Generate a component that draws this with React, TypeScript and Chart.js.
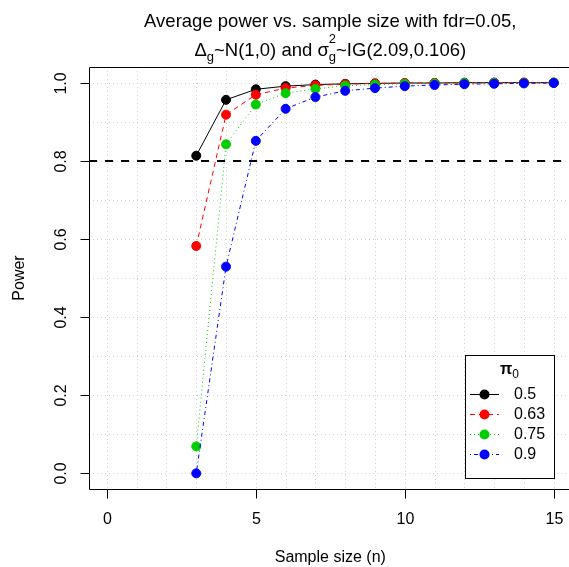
import React, { useEffect, useRef } from "react";
import { Chart, registerables } from "chart.js";

Chart.register(...registerables);

// ---------------- data ----------------
const sampleSizes = [3, 4, 5, 6, 7, 8, 9, 10, 11, 12, 13, 14, 15];
const pi0Labels = ["0.5", "0.63", "0.75", "0.9"];
const power050 = [0.813, 0.956, 0.983, 0.991, 0.995, 0.997, 0.998, 0.999, 0.999, 1.0, 1.0, 1.0, 1.0];
const power063 = [0.582, 0.918, 0.969, 0.986, 0.993, 0.996, 0.998, 0.999, 0.999, 0.999, 1.0, 1.0, 1.0];
const power075 = [0.069, 0.842, 0.944, 0.973, 0.984, 0.992, 0.995, 0.997, 0.998, 0.999, 0.999, 0.999, 1.0];
const power090 = [0.0, 0.529, 0.851, 0.933, 0.963, 0.979, 0.986, 0.991, 0.994, 0.996, 0.997, 0.998, 0.999];
const seriesColors = ["#000000", "#FF0000", "#00CD00", "#0000FF"];
const seriesDashes: number[][] = [[], [5, 4], [1, 3], [1, 3, 4, 3]];

const xTicks = [0, 5, 10, 15];
const xTickLabels = ["0", "5", "10", "15"];
const yTicks = [0, 0.2, 0.4, 0.6, 0.8, 1.0];
const yTickLabels = ["0.0", "0.2", "0.4", "0.6", "0.8", "1.0"];
const xGrid = [0, 1, 2, 3, 4, 5, 6, 7, 8, 9, 10, 11, 12, 13, 14, 15];
const yGrid = [0, 0.1, 0.2, 0.3, 0.4, 0.5, 0.6, 0.7, 0.8, 0.9, 1.0];
const targetPower = 0.8;

const titleLine1 = "Average power vs. sample size with fdr=0.05,";
const xLabel = "Sample size (n)";
const yLabel = "Power";

const FONT = '"Liberation Sans", Arial, Helvetica, sans-serif';

const decor = {
  id: "decor",
  beforeDatasetsDraw(chart: any) {
    const { ctx, chartArea: a, scales } = chart;
    const x = scales.x, y = scales.y;
    ctx.save();
    ctx.beginPath();
    ctx.rect(a.left, a.top, a.right - a.left, a.bottom - a.top);
    ctx.clip();
    // dotted grid
    ctx.strokeStyle = "#d3d3d3";
    ctx.lineWidth = 1;
    ctx.setLineDash([1, 3]);
    for (const v of xGrid) {
      const px = Math.round(x.getPixelForValue(v)) + 0.5;
      ctx.beginPath();
      ctx.moveTo(px, a.top);
      ctx.lineTo(px, a.bottom);
      ctx.stroke();
    }
    for (const v of yGrid) {
      const py = Math.round(y.getPixelForValue(v)) + 0.5;
      ctx.beginPath();
      ctx.moveTo(a.left, py);
      ctx.lineTo(a.right, py);
      ctx.stroke();
    }
    // target power line
    ctx.strokeStyle = "#000";
    ctx.lineWidth = 2;
    ctx.setLineDash([8, 8]);
    const py = Math.round(y.getPixelForValue(targetPower));
    ctx.beginPath();
    ctx.moveTo(a.left, py);
    ctx.lineTo(a.right, py);
    ctx.stroke();
    ctx.restore();
  },
  afterDatasetsDraw(chart: any) {
    const { ctx, chartArea: a, scales } = chart;
    const x = scales.x, y = scales.y;
    ctx.save();
    ctx.setLineDash([]);
    ctx.strokeStyle = "#000";
    ctx.fillStyle = "#000";
    ctx.lineWidth = 1;
    // box
    const L = Math.round(a.left) + 0.5, T = Math.round(a.top) + 0.5, B = Math.round(a.bottom) + 0.5;
    ctx.beginPath();
    ctx.moveTo(a.right + 2, T);
    ctx.lineTo(L, T);
    ctx.lineTo(L, B);
    ctx.lineTo(a.right + 2, B);
    ctx.stroke();
    // x ticks
    ctx.font = `16px ${FONT}`;
    ctx.textAlign = "center";
    ctx.textBaseline = "middle";
    xTicks.forEach((v, i) => {
      const px = Math.round(x.getPixelForValue(v)) + 0.5;
      ctx.beginPath();
      ctx.moveTo(px, B);
      ctx.lineTo(px, B + 9);
      ctx.stroke();
      ctx.fillText(xTickLabels[i], px, 520);
    });
    // y ticks
    yTicks.forEach((v, i) => {
      const py = Math.round(y.getPixelForValue(v)) + 0.5;
      ctx.beginPath();
      ctx.moveTo(L, py);
      ctx.lineTo(L - 9, py);
      ctx.stroke();
      ctx.save();
      ctx.translate(62, py);
      ctx.rotate(-Math.PI / 2);
      ctx.fillText(yTickLabels[i], 0, 0);
      ctx.restore();
    });
    // axis titles
    const cx = (a.left + a.right) / 2;
    ctx.fillText(xLabel, cx, 558);
    ctx.save();
    ctx.translate(20, (a.top + a.bottom) / 2);
    ctx.rotate(-Math.PI / 2);
    ctx.fillText(yLabel, 0, 0);
    ctx.restore();

    // title
    const mainPx = 18.5;
    const subPx = 13;
    const mainF = `${mainPx}px ${FONT}`;
    const subF = `${subPx}px ${FONT}`;
    ctx.font = mainF;
    ctx.textBaseline = "middle";
    ctx.fillText(titleLine1, cx, 22);

    const base = 56;
    type Seg = { t?: string; f: string; dy: number; stack?: [string, string] };
    const segs: Seg[] = [
      { t: "\u0394", f: mainF, dy: 0 },
      { t: "g", f: subF, dy: 5 },
      { t: "~N(1,0) and ", f: mainF, dy: 0 },
      { t: "\u03C3", f: mainF, dy: 0 },
      { stack: ["2", "g"], f: subF, dy: 0 },
      { t: "~IG(2.09,0.106)", f: mainF, dy: 0 },
    ];
    const widths = segs.map((s) => {
      ctx.font = s.f;
      if (s.stack) return Math.max(ctx.measureText(s.stack[0]).width, ctx.measureText(s.stack[1]).width);
      return ctx.measureText(s.t as string).width;
    });
    const total = widths.reduce((p, c) => p + c, 0);
    let sx = cx - total / 2;
    ctx.textAlign = "left";
    ctx.textBaseline = "alphabetic";
    segs.forEach((s, i) => {
      ctx.font = s.f;
      if (s.stack) {
        ctx.fillText(s.stack[0], sx, base - 13);
        ctx.fillText(s.stack[1], sx, base + 5);
      } else {
        ctx.fillText(s.t as string, sx, base + s.dy);
      }
      sx += widths[i];
    });

    // legend
    const lx0 = 465, lx1 = 554, ly0 = 355, ly1 = 478;
    ctx.fillStyle = "#fff";
    ctx.fillRect(lx0, ly0, lx1 - lx0, ly1 - ly0);
    ctx.strokeStyle = "#000";
    ctx.lineWidth = 1;
    ctx.strokeRect(lx0 + 0.5, ly0 + 0.5, lx1 - lx0, ly1 - ly0);
    ctx.fillStyle = "#000";
    // legend title pi_0
    ctx.font = `bold 16px ${FONT}`;
    const piW = ctx.measureText("\u03C0").width;
    ctx.font = `12px ${FONT}`;
    const zW = ctx.measureText("0").width;
    const tx = (lx0 + lx1) / 2 - (piW + zW) / 2;
    ctx.font = `bold 16px ${FONT}`;
    ctx.fillText("\u03C0", tx, 374);
    ctx.font = `12px ${FONT}`;
    ctx.fillText("0", tx + piW, 378);
    // entries
    ctx.font = `16px ${FONT}`;
    ctx.textBaseline = "middle";
    pi0Labels.forEach((lab, i) => {
      const ry = 394 + i * 20;
      ctx.strokeStyle = seriesColors[i];
      ctx.setLineDash(seriesDashes[i]);
      ctx.beginPath();
      ctx.moveTo(470, ry + 0.5);
      ctx.lineTo(499, ry + 0.5);
      ctx.stroke();
      ctx.setLineDash([]);
      ctx.fillStyle = seriesColors[i];
      ctx.beginPath();
      ctx.arc(484.5, ry + 0.5, 5, 0, Math.PI * 2);
      ctx.fill();
      ctx.fillStyle = "#000";
      ctx.fillText(lab, 514, ry + 1);
    });
    ctx.restore();
  },
};

export default function App() {
  const canvasRef = useRef<HTMLCanvasElement | null>(null);

  useEffect(() => {
    const canvas = canvasRef.current;
    if (!canvas) return;
    const series = [power050, power063, power075, power090];
    const datasets = series.map((vals, i) => ({
      label: pi0Labels[i],
      data: sampleSizes.map((n, j) => ({ x: n, y: vals[j] })),
      borderColor: seriesColors[i],
      backgroundColor: seriesColors[i],
      borderWidth: 1,
      borderDash: seriesDashes[i],
      pointRadius: 4.5,
      pointBorderWidth: 1,
      pointBackgroundColor: seriesColors[i],
      pointBorderColor: seriesColors[i],
      tension: 0,
      order: 4 - i,
      clip: false as any,
    }));
    const chart = new Chart(canvas, {
      type: "line",
      data: { datasets },
      options: {
        responsive: false,
        animation: false,
        devicePixelRatio: 1,
        layout: { padding: { left: 89, top: 67, right: 8.4, bottom: 78 } },
        scales: {
          x: { type: "linear", min: -0.6, max: 15.6, display: false },
          y: { type: "linear", min: -0.04, max: 1.04, display: false },
        },
        plugins: {
          legend: { display: false },
          tooltip: { enabled: false },
          title: { display: false },
        },
      },
      plugins: [decor],
    });
    return () => chart.destroy();
  }, []);

  return (
    <div
      style={{
        position: "fixed",
        left: 0,
        top: 0,
        width: 569,
        height: 567,
        overflow: "hidden",
        background: "#fff",
      }}
    >
      <canvas ref={canvasRef} width={580} height={567} style={{ width: 580, height: 567, display: "block" }} />
    </div>
  );
}
